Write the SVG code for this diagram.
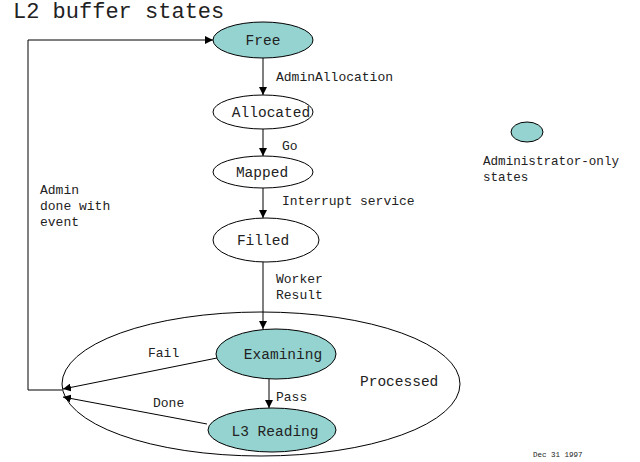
<svg xmlns="http://www.w3.org/2000/svg" width="640" height="462" viewBox="0 0 640 462">
<style>
text{font-family:"Liberation Mono","Courier New",monospace;fill:#222}
.st{fill:#fff;stroke:#000;stroke-width:1}
.adm{fill:#94d3d0;stroke:#000;stroke-width:1}
.nl{font-size:14.5px}
.el{font-size:13px}
.ln{fill:none;stroke:#000;stroke-width:1}
</style>
<defs>
<marker id="ah" viewBox="0 0 10 10" refX="10" refY="5" markerWidth="8" markerHeight="8" markerUnits="userSpaceOnUse" orient="auto">
<path d="M0,0 L10,5 L0,10 z" fill="#000"/>
</marker>
</defs>
<rect width="640" height="462" fill="#fff"/>
<text x="13" y="18" style="font-size:22px">L2 buffer states</text>
<g id="processed">
<ellipse class="st" cx="261" cy="384" rx="199" ry="72"/>
<text class="nl" x="360" y="386">Processed</text>
</g>
<g id="connectors">
<line class="ln" x1="263" y1="58" x2="263" y2="95" marker-end="url(#ah)"/>
<line class="ln" x1="263" y1="129" x2="263" y2="156" marker-end="url(#ah)"/>
<line class="ln" x1="263" y1="188" x2="263" y2="218" marker-end="url(#ah)"/>
<line class="ln" x1="263" y1="262" x2="263" y2="329" marker-end="url(#ah)"/>
<line class="ln" x1="269" y1="379" x2="269" y2="408" marker-end="url(#ah)"/>
<line class="ln" x1="217" y1="358" x2="63" y2="389" marker-end="url(#ah)"/>
<line class="ln" x1="207" y1="424" x2="63" y2="397" marker-end="url(#ah)"/>
<polyline class="ln" points="62,390 28,390 28,40 213,40" marker-end="url(#ah)"/>
<text class="el" x="276" y="81">AdminAllocation</text>
<text class="el" x="282" y="150">Go</text>
<text class="el" x="282" y="205">Interrupt service</text>
<text class="el" x="276" y="283">Worker</text>
<text class="el" x="276" y="299">Result</text>
<text class="el" x="276" y="401">Pass</text>
<text class="el" x="148" y="357">Fail</text>
<text class="el" x="153" y="407">Done</text>
<text class="el" x="40" y="194">Admin</text>
<text class="el" x="40" y="210">done with</text>
<text class="el" x="40" y="226">event</text>
</g>
<g id="free">
<ellipse class="adm" cx="263" cy="40" rx="50" ry="18"/>
<text class="nl" x="263" y="45" text-anchor="middle">Free</text>
</g>
<g id="allocated">
<ellipse class="st" cx="263" cy="112" rx="50" ry="17"/>
<text class="nl" x="271" y="117" text-anchor="middle">Allocated</text>
</g>
<g id="mapped">
<ellipse class="st" cx="263" cy="172" rx="50" ry="16"/>
<text class="nl" x="262" y="177" text-anchor="middle">Mapped</text>
</g>
<g id="filled">
<ellipse class="st" cx="266" cy="240" rx="53" ry="22"/>
<text class="nl" x="263" y="245" text-anchor="middle">Filled</text>
</g>
<g id="examining">
<ellipse class="adm" cx="276" cy="354" rx="60" ry="25"/>
<text class="nl" x="283" y="359" text-anchor="middle">Examining</text>
</g>
<g id="l3reading">
<ellipse class="adm" cx="272" cy="430" rx="64" ry="22"/>
<text class="nl" x="275" y="436" text-anchor="middle">L3 Reading</text>
</g>
<g id="legend">
<ellipse class="adm" cx="527" cy="132" rx="16" ry="10"/>
<text x="483" y="165" style="font-size:12.6px">Administrator-only</text>
<text x="483" y="181" style="font-size:12.6px">states</text>
</g>
<text x="533" y="457" style="font-size:7.5px">Dec 31 1997</text>
</svg>
